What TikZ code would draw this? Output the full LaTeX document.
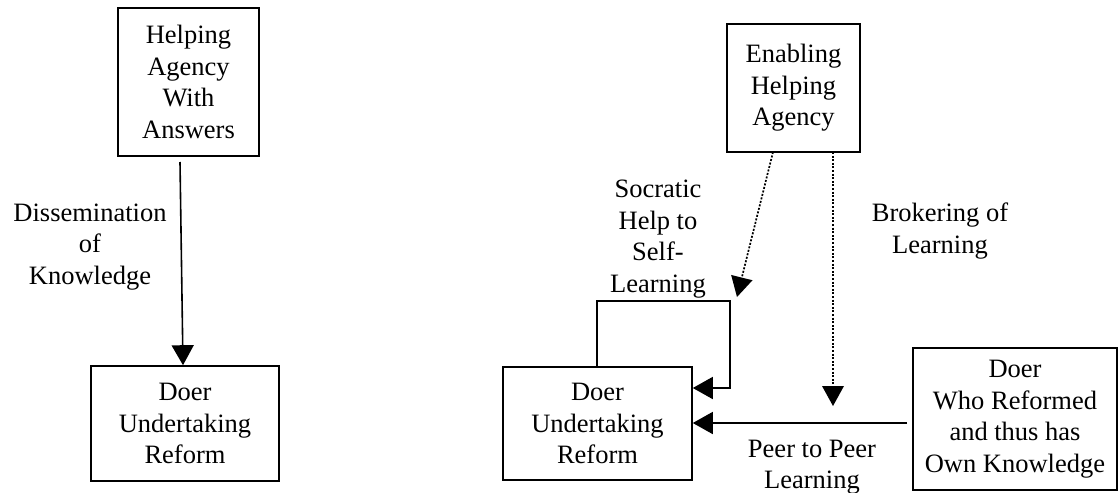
\documentclass[tikz,border=0pt]{standalone}
\usepackage{fontspec}
\setmainfont{Liberation Serif}
\usetikzlibrary{arrows.meta,calc}
\begin{document}
\begin{tikzpicture}[x=1pt,y=-1pt,
  box/.style={draw,line width=1.6pt,rectangle,align=center,inner sep=0pt,
    font=\fontsize{26.5}{31.5}\selectfont},
  lbl/.style={align=center,font=\fontsize{26.5}{31.5}\selectfont,inner sep=0pt},
  solidarrow/.style={line width=1.6pt,-{Triangle[length=20pt,width=22pt]}},
  dotarrow/.style={line width=1.7pt,dash pattern=on 2pt off 1.6pt,-{Triangle[length=20pt,width=22pt,line width=0pt]}},
  ]
\useasboundingbox (0,0) rectangle (1120,493);
\node[box,minimum width=141pt,minimum height=148pt] (b1) at (188.5,82) {Helping\\Agency\\With\\Answers};
\node[box,minimum width=188pt,minimum height=115pt] (b2) at (185,423.5) {Doer\\Undertaking\\Reform};
\node[box,minimum width=133pt,minimum height=128pt] (b3) at (793.5,88) {Enabling\\Helping\\Agency};
\node[box,minimum width=189pt,minimum height=113pt] (b4) at (597.5,423.5) {Doer\\Undertaking\\Reform};
\node[box,minimum width=204pt,minimum height=142pt] (b5) at (1015,419) {Doer\\Who Reformed\\and thus has\\Own Knowledge};

\node[lbl] (l1) at (90,247) {Dissemination\\of\\Knowledge};
\node[lbl] (l2) at (658,239) {Socratic\\Help to\\Self-\\Learning};
\node[lbl] (l3) at (940,231) {Brokering of\\Learning};
\node[lbl] (l4) at (812,467) {Peer to Peer\\Learning};

\coordinate (a1s) at (180,162);
\draw[solidarrow] (a1s) -- ($(b2.north)+(-2,0)$);

\coordinate (d1s) at (773,152);
\coordinate (d1e) at (737,297);
\draw[dotarrow] (d1s) -- (d1e);
\coordinate (d2s) at (833,152);
\coordinate (d2e) at (833,406);
\draw[dotarrow] (d2s) -- (d2e);

\coordinate (lp1) at (597,301);
\coordinate (lp2) at (730,301);
\coordinate (lp3) at (730,388);
\draw[solidarrow] (597,367) -- (lp1) -- (lp2) -- (lp3) -- (b4.east |- lp3);

\coordinate (p1) at (907,423);
\draw[solidarrow] (p1) -- (b4.east |- p1);
\end{tikzpicture}
\end{document}
